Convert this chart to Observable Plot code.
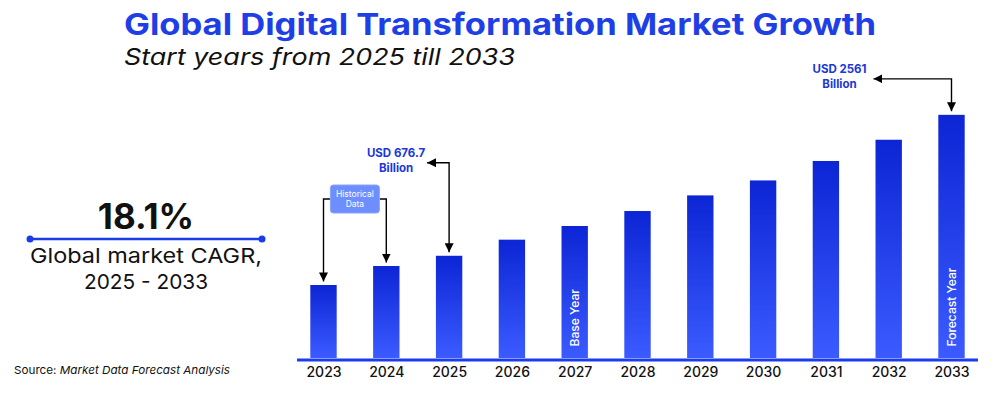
<!DOCTYPE html>
<html><head><meta charset="utf-8">
<script src="https://cdn.jsdelivr.net/npm/d3@7"></script>
<script src="https://cdn.jsdelivr.net/npm/@observablehq/plot@0.6"></script>
<style>body{margin:0;background:#fff;}</style>
</head><body><div id="chart"></div>
<script>
// ---- data ----
const years = ["2023","2024","2025","2026","2027","2028","2029","2030","2031","2032","2033"];
const values = [286, 540, 676.7, 892, 1075, 1275, 1484, 1684, 1944, 2228, 2561]; // USD billion (estimated)
const yMin = -690, yMax = 3000;
const tagYears = ["2027", "2033"];
const tagTexts = ["Base Year", "Forecast Year"];
const calloutYears = ["2025", "2033"];
const calloutLines = [["USD 676.7", "Billion"], ["USD 2561", "Billion"]];
const historicalYears = ["2023", "2024"];
const historicalLines = ["Historical", "Data"];
const titleText = "Global Digital Transformation Market Growth";
const subtitleText = "Start years from 2025 till 2033";
const cagrValue = "18.1%";
const cagrLines = ["Global market CAGR,", "2025 - 2033"];
const sourceLabel = "Source: ";
const sourceText = "Market Data Forecast Analysis";

const data = years.map((year, i) => ({year, value: values[i]}));
const tags = tagYears.map((year, i) => ({year, text: tagTexts[i]}));

const FONT = "Inter, 'Open Sans', sans-serif";
const chart = Plot.plot({
  width: 1000, height: 395,
  marginLeft: 297, marginRight: 22, marginTop: 82, marginBottom: 37,
  style: {fontFamily: FONT, background: "white", overflow: "visible"},
  x: {type: "band", domain: years, paddingInner: 0.58, paddingOuter: 0.212, round: false, label: null},
  y: {domain: [yMin, yMax], axis: null},
  marks: [
    Plot.barY(data, {x: "year", y1: yMin, y2: "value", fill: "url(#barGrad)"}),
    Plot.ruleY([yMin], {stroke: "#1a3cf0", strokeWidth: 3, dy: 1.5}),
    Plot.text(tags, {x: "year", y: yMin, text: "text", rotate: -90, textAnchor: "start", dy: -12,
      fill: "white", fontSize: 12, fontWeight: 500}),
    Plot.axisX({tickSize: 0, tickPadding: 9, fontSize: 14, fontWeight: 500, fill: "#111", label: null})
  ]
});
document.getElementById("chart").appendChild(chart);

const svg = d3.select(chart);
const defs = svg.append("defs");
const g = defs.append("linearGradient").attr("id", "barGrad")
  .attr("x1", 0).attr("y1", 0).attr("x2", 0).attr("y2", 1);
g.append("stop").attr("offset", "0%").attr("stop-color", "#0c25d5");
g.append("stop").attr("offset", "100%").attr("stop-color", "#3b5bff");
defs.append("marker").attr("id", "ah").attr("viewBox", "0 0 10 10")
  .attr("refX", 10).attr("refY", 5).attr("markerWidth", 9).attr("markerHeight", 9)
  .attr("markerUnits", "userSpaceOnUse").attr("orient", "auto-start-reverse")
  .append("path").attr("d", "M0,0L10,5L0,10Z").attr("fill", "#000");

const sx = chart.scale("x"), sy = chart.scale("y");
const cx = yr => sx.apply(yr) + sx.bandwidth / 2;
const topOf = yr => sy.apply(values[years.indexOf(yr)]);
const gap = 3.5;

// callouts
const rises = [93, 36], textShift = [-53, -112], arrowShift = [-22, -78];
calloutYears.forEach((yr, i) => {
  const x = cx(yr), t = topOf(yr), yh = t - rises[i];
  svg.append("path")
    .attr("d", `M${x + arrowShift[i]},${yh}H${x}V${t - gap}`)
    .attr("fill", "none").attr("stroke", "#000").attr("stroke-width", 1.4)
    .attr("marker-start", "url(#ah)").attr("marker-end", "url(#ah)");
  calloutLines[i].forEach((line, j) => {
    svg.append("text").attr("x", x + textShift[i]).attr("y", yh - 6 + j * 15)
      .attr("text-anchor", "middle").attr("font-family", FONT).attr("font-weight", 700)
      .attr("font-size", 11.5).attr("fill", "#1b38d8").text(line);
  });
});

// historical data box
{
  const x0 = cx(historicalYears[0]), x1 = cx(historicalYears[1]);
  const mid = (x0 + x1) / 2, by = 199, bw = 49, bh = 28;
  svg.append("path").attr("d", `M${mid - bw / 2},${by}H${x0}V${topOf(historicalYears[0]) - gap}`)
    .attr("fill", "none").attr("stroke", "#000").attr("stroke-width", 1.4).attr("marker-end", "url(#ah)");
  svg.append("path").attr("d", `M${mid + bw / 2},${by}H${x1}V${topOf(historicalYears[1]) - gap}`)
    .attr("fill", "none").attr("stroke", "#000").attr("stroke-width", 1.4).attr("marker-end", "url(#ah)");
  svg.append("rect").attr("x", mid - bw / 2).attr("y", by - bh / 2).attr("width", bw).attr("height", bh)
    .attr("rx", 3).attr("fill", "#6e8efd").attr("stroke", "#8aa3ff").attr("stroke-width", 1);
  historicalLines.forEach((line, j) => {
    svg.append("text").attr("x", mid).attr("y", by - 2 + j * 10)
      .attr("text-anchor", "middle").attr("font-family", FONT).attr("font-size", 8.5)
      .attr("fill", "white").text(line);
  });
}

// titles
svg.append("text").attr("x", 124).attr("y", 35).attr("text-anchor", "start").attr("font-family", FONT).attr("font-weight", 700)
  .attr("font-size", 30).attr("fill", "#1f3fe6").attr("textLength", 752).attr("lengthAdjust", "spacingAndGlyphs").text(titleText);
svg.append("text").attr("x", 124).attr("y", 65).attr("text-anchor", "start").attr("font-family", FONT).attr("font-style", "italic")
  .attr("font-size", 23).attr("fill", "#111").attr("textLength", 391).attr("lengthAdjust", "spacingAndGlyphs").text(subtitleText);

// left panel
svg.append("text").attr("x", 146).attr("y", 229).attr("text-anchor", "middle").attr("font-family", FONT)
  .attr("font-weight", 700).attr("font-size", 35).attr("fill", "#111").text(cagrValue);
svg.append("line").attr("x1", 30).attr("x2", 262).attr("y1", 239).attr("y2", 239)
  .attr("stroke", "#1a3ce8").attr("stroke-width", 2.5);
[30, 262].forEach(x => svg.append("circle").attr("cx", x).attr("cy", 239).attr("r", 3.5).attr("fill", "#1a3ce8"));
const cagrWidths = [232, 124];
cagrLines.forEach((line, j) => {
  svg.append("text").attr("x", 146).attr("y", 263 + j * 26).attr("text-anchor", "middle").attr("font-family", FONT)
    .attr("font-size", 20.5).attr("fill", "#111").attr("textLength", cagrWidths[j]).attr("lengthAdjust", "spacingAndGlyphs").text(line);
});
const src = svg.append("text").attr("x", 14).attr("y", 374).attr("text-anchor", "start").attr("font-family", FONT)
  .attr("font-size", 11).attr("fill", "#111").attr("textLength", 216).attr("lengthAdjust", "spacingAndGlyphs");
src.append("tspan").text(sourceLabel);
src.append("tspan").attr("font-style", "italic").text(sourceText);
</script>
</body></html>
